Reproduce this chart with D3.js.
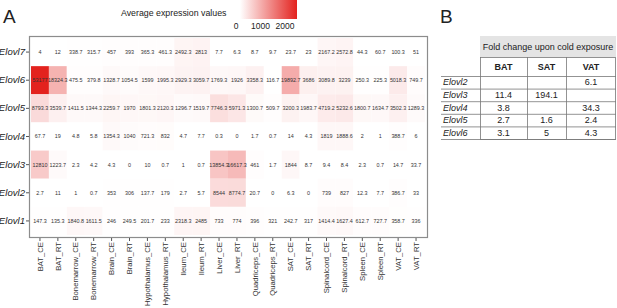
<!DOCTYPE html>
<html>
<head>
<meta charset="utf-8">
<script src="https://cdn.jsdelivr.net/npm/d3@7"></script>
<style>
  body { margin: 0; background: #fff; }
  svg { display: block; font-family: "Liberation Sans", Arial, sans-serif; }
</style>
</head>
<body>
<svg id="chart" width="617" height="308"></svg>
<script>
// samples (columns) and genes (rows, top to bottom)
const samples = ['BAT_CE', 'BAT_RT', 'Bonemarrow_CE', 'Bonemarrow_RT', 'Brain_CE', 'Brain_RT',
  'Hypothalamus_CE', 'Hypothalamus_RT', 'Ileum_CE', 'Ileum_RT', 'Liver_CE', 'Liver_RT',
  'Quadriceps_CE', 'Quadriceps_RT', 'SAT_CE', 'SAT_RT', 'Spinalcord_CE', 'Spinalcord_RT',
  'Spleen_CE', 'Spleen_RT', 'VAT_CE', 'VAT_RT']
const genes = ['Elovl7', 'Elovl6', 'Elovl5', 'Elovl4', 'Elovl3', 'Elovl2', 'Elovl1']

// average expression, one array per gene, in sample order
const elovl7 = [4, 12, 338.7, 315.7, 457, 393, 365.3, 461.3, 2492.3, 2813, 7.7, 6.3, 8.7, 9.7, 23.7, 23, 2167.2, 2572.8, 44.3, 60.7, 100.3, 51]
const elovl6 = [53177, 18324.3, 475.5, 379.8, 1328.7, 1054.5, 1599, 1995.3, 2929.3, 3059.7, 1769.3, 1926, 3358.3, 116.7, 19892.7, 3686, 3089.8, 3239, 250.3, 225.3, 5018.3, 749.7]
const elovl5 = [8793.3, 3539.7, 1411.5, 1344.3, 2259.7, 1970, 1801.3, 2120.3, 1296.7, 1519.7, 7746.3, 5971.3, 1300.7, 509.7, 3200.3, 1983.7, 4719.2, 5232.6, 1800.7, 1634.7, 3502.3, 1289.3]
const elovl4 = [67.7, 19, 4.8, 5.8, 1354.3, 1040, 721.3, 832, 4.7, 7.7, 0.3, 0, 1.7, 0.7, 14, 4.3, 1819, 1888.6, 2, 1, 388.7, 6]
const elovl3 = [12810, 1223.7, 2.3, 4.2, 4.3, 0, 10, 0.7, 1, 0.7, 13854.3, 16617.3, 461, 1.7, 1844, 8.7, 9.4, 8.4, 2.3, 0.7, 14.7, 33.7]
const elovl2 = [2.7, 11, 1, 0.7, 353, 306, 137.7, 179, 2.7, 5.7, 8544, 8774.7, 20.7, 0, 6.3, 0, 739, 827, 12.3, 7.7, 386.7, 33]
const elovl1 = [147.3, 135.3, 1840.8, 1611.5, 246, 249.5, 201.7, 233, 2318.3, 2485, 733, 774, 396, 321, 242.7, 317, 1414.4, 1627.4, 612.7, 727.7, 358.7, 336]
const expression = [elovl7, elovl6, elovl5, elovl4, elovl3, elovl2, elovl1]

const legendTicks = [0, 1000, 2000]

// panel B: fold change upon cold exposure
const foldGenes = ['Elovl2', 'Elovl3', 'Elovl4', 'Elovl5', 'Elovl6']
const foldTissues = ['BAT', 'SAT', 'VAT']
const foldBAT = [null, 11.4, 3.8, 2.7, 3.1]
const foldSAT = [null, 194.1, null, 1.6, 5]
const foldVAT = [6.1, null, 34.3, 2.4, 4.3]

const svg = d3.select('#chart')

// flatten into cells
const cells = []
genes.forEach((g, i) => samples.forEach((s, j) => cells.push({ gene: g, sample: s, value: expression[i][j] })))

const frame = { left: 29, right: 427, top: 36, bottom: 237 }

const xScale = d3.scaleBand()
  .domain(samples)
  .range([frame.left + 2, frame.right - 2])

const yScale = d3.scaleBand()
  .domain(genes)
  .range([frame.top + 2, frame.bottom - 2])

const maxVal = d3.max(cells, d => d.value)
const color = d3.scaleLinear()
  .domain([0, maxVal])
  .range(['#ffffff', '#e3221e'])
  .interpolate(d3.interpolateRgb)

// panel letters
svg.append('text').attr('x', 3).attr('y', 23).attr('font-size', 19).attr('fill', '#222').text('A')
svg.append('text').attr('x', 440).attr('y', 23).attr('font-size', 19).attr('fill', '#222').text('B')

// cells
svg.selectAll('.cell')
  .data(cells)
  .join('rect')
  .attr('class', 'cell')
  .attr('x', d => xScale(d.sample))
  .attr('y', d => yScale(d.gene))
  .attr('width', xScale.bandwidth())
  .attr('height', yScale.bandwidth())
  .attr('fill', d => color(d.value))

svg.selectAll('.val')
  .data(cells)
  .join('text')
  .attr('class', 'val')
  .attr('x', d => xScale(d.sample) + xScale.bandwidth() / 2)
  .attr('y', d => yScale(d.gene) + yScale.bandwidth() / 2)
  .attr('dy', '0.35em')
  .attr('text-anchor', 'middle')
  .attr('font-size', 5.4)
  .attr('fill', '#333')
  .text(d => d.value)

// frame
svg.append('rect')
  .attr('x', frame.left + 0.5)
  .attr('y', frame.top + 0.5)
  .attr('width', frame.right - frame.left)
  .attr('height', frame.bottom - frame.top)
  .attr('fill', 'none')
  .attr('stroke', '#8c8c8c')
  .attr('stroke-width', 1.2)

// axes
const yAxis = svg.append('g')
  .attr('transform', `translate(${frame.left}, 0)`)
  .call(d3.axisLeft(yScale).tickSize(3).tickPadding(1))
yAxis.select('.domain').remove()
yAxis.selectAll('line').attr('stroke', '#555')
yAxis.selectAll('text')
  .attr('font-size', 9.6)
  .attr('font-style', 'italic')
  .attr('font-family', '"Liberation Sans", Arial, sans-serif')
  .attr('fill', '#222')

const xAxis = svg.append('g')
  .attr('transform', `translate(0, ${frame.bottom + 1})`)
  .call(d3.axisBottom(xScale).tickSize(3).tickPadding(2))
xAxis.select('.domain').remove()
xAxis.selectAll('line').attr('stroke', '#555')
xAxis.selectAll('text')
  .attr('font-size', 7.7)
  .attr('font-family', '"Liberation Sans", Arial, sans-serif')
  .attr('fill', '#333')
  .attr('transform', 'rotate(-90)')
  .attr('text-anchor', 'end')
  .attr('x', -4)
  .attr('y', 0)
  .attr('dy', '0.35em')

// legend
svg.append('text')
  .attr('x', 121).attr('y', 16)
  .attr('font-size', 8.8)
  .attr('fill', '#222')
  .text('Average expression values')

const grad = svg.append('defs').append('linearGradient').attr('id', 'lg')
grad.append('stop').attr('offset', '0%').attr('stop-color', color(0))
grad.append('stop').attr('offset', '100%').attr('stop-color', color(maxVal))
svg.append('rect')
  .attr('x', 240).attr('y', 0)
  .attr('width', 57).attr('height', 19)
  .attr('fill', 'url(#lg)')

const legendScale = d3.scaleLinear().domain([0, 2000]).range([236, 285])
svg.selectAll('.ltick')
  .data(legendTicks)
  .join('text')
  .attr('class', 'ltick')
  .attr('x', d => legendScale(d))
  .attr('y', 29)
  .attr('text-anchor', 'middle')
  .attr('font-size', 8.5)
  .attr('fill', '#222')
  .text(d => d)

// table (panel B)
const tbl = { left: 441, labelRight: 480, right: 616, headTop: 36, headBottom: 57, colTop: 57, colBottom: 76, rowH: 12.6 }
const colX = d3.scaleOrdinal().domain(foldTissues).range([480, 527, 566])
const colW = { BAT: 47, SAT: 39, VAT: 50 }
const rowY = d3.scaleBand().domain(foldGenes).range([tbl.colBottom, tbl.colBottom + tbl.rowH * foldGenes.length])
const foldData = [foldBAT, foldSAT, foldVAT]

svg.append('rect')
  .attr('x', tbl.labelRight).attr('y', tbl.headTop)
  .attr('width', tbl.right - tbl.labelRight).attr('height', tbl.headBottom - tbl.headTop)
  .attr('fill', '#e4e4e4')
svg.append('text')
  .attr('x', (tbl.labelRight + tbl.right) / 2).attr('y', (tbl.headTop + tbl.headBottom) / 2)
  .attr('dy', '0.35em').attr('text-anchor', 'middle')
  .attr('font-size', 9).attr('fill', '#222')
  .text('Fold change upon cold exposure')

const lineColor = '#777'
const tableBottom = rowY.range()[1]
// column header row box
svg.append('rect')
  .attr('x', tbl.labelRight + 0.5).attr('y', tbl.colTop + 0.5)
  .attr('width', tbl.right - tbl.labelRight - 1).attr('height', tableBottom - tbl.colTop)
  .attr('fill', 'none').attr('stroke', lineColor).attr('stroke-width', 0.8)
// horizontal lines for each gene row
svg.selectAll('.hline')
  .data(foldGenes)
  .join('line')
  .attr('class', 'hline')
  .attr('x1', tbl.left).attr('x2', tbl.right)
  .attr('y1', d => rowY(d) + 0.5).attr('y2', d => rowY(d) + 0.5)
  .attr('stroke', lineColor).attr('stroke-width', 0.8)
svg.append('line')
  .attr('x1', tbl.left).attr('x2', tbl.right)
  .attr('y1', tableBottom + 0.5).attr('y2', tableBottom + 0.5)
  .attr('stroke', lineColor).attr('stroke-width', 0.8)
// vertical separators
svg.selectAll('.vline')
  .data(foldTissues.slice(1))
  .join('line')
  .attr('class', 'vline')
  .attr('x1', d => colX(d) + 0.5).attr('x2', d => colX(d) + 0.5)
  .attr('y1', tbl.colTop).attr('y2', tableBottom)
  .attr('stroke', lineColor).attr('stroke-width', 0.8)

svg.selectAll('.colhead')
  .data(foldTissues)
  .join('text')
  .attr('class', 'colhead')
  .attr('x', d => colX(d) + colW[d] / 2)
  .attr('y', (tbl.colTop + tbl.colBottom) / 2)
  .attr('dy', '0.35em').attr('text-anchor', 'middle')
  .attr('font-size', 9).attr('font-weight', 'bold').attr('fill', '#222')
  .text(d => d)

svg.selectAll('.rowlab')
  .data(foldGenes)
  .join('text')
  .attr('class', 'rowlab')
  .attr('x', tbl.left + 2)
  .attr('y', d => rowY(d) + rowY.bandwidth() / 2)
  .attr('dy', '0.35em')
  .attr('font-size', 9).attr('font-style', 'italic').attr('fill', '#222')
  .text(d => d)

const foldCells = []
foldTissues.forEach((t, j) => foldGenes.forEach((g, i) => {
  if (foldData[j][i] != null) foldCells.push({ tissue: t, gene: g, value: foldData[j][i] })
}))
svg.selectAll('.fold')
  .data(foldCells)
  .join('text')
  .attr('class', 'fold')
  .attr('x', d => colX(d.tissue) + colW[d.tissue] / 2)
  .attr('y', d => rowY(d.gene) + rowY.bandwidth() / 2)
  .attr('dy', '0.35em').attr('text-anchor', 'middle')
  .attr('font-size', 9).attr('font-weight', 'normal').attr('fill', '#222')
  .text(d => d.value)
</script>
</body>
</html>
